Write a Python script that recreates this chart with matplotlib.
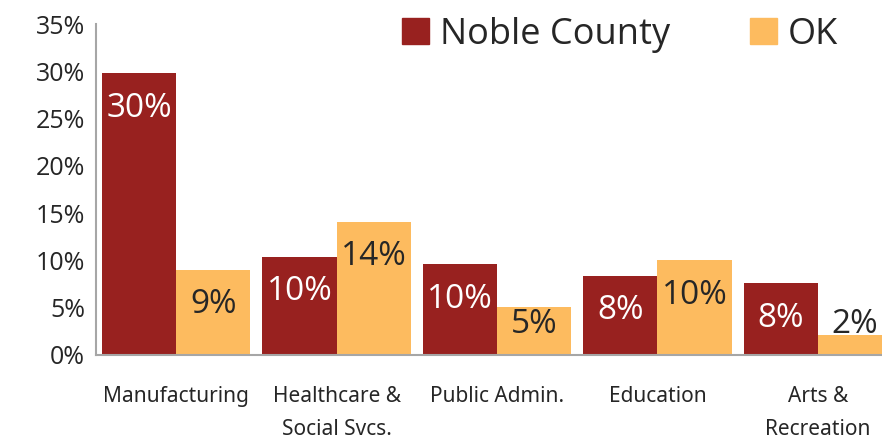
import numpy as np
import matplotlib.pyplot as plt
from matplotlib.patches import Patch

categories = ["Manufacturing", "Healthcare &\nSocial Svcs.", "Public Admin.", "Education", "Arts &\nRecreation"]
noble = [29.8, 10.4, 9.6, 8.4, 7.6]
ok = [9.0, 14.1, 5.1, 10.0, 2.1]
noble_labels = ["30%", "10%", "10%", "8%", "8%"]
ok_labels = ["9%", "14%", "5%", "10%", "2%"]

red = "#98211F"
orange = "#FDBB5F"
txt = "#262626"

plt.rcParams["font.family"] = ["Open Sans", "DejaVu Sans"]

fig = plt.figure(figsize=(8.82, 4.41), dpi=100)
ax = fig.add_axes([96 / 882, 86 / 441, 1 - 96 / 882, 331 / 441])

x = np.arange(len(categories))
w = 0.4625
ax.bar(x - w / 2, noble, w, color=red)
ax.bar(x + w / 2, ok, w, color=orange)

# labels sit just inside the bar end, but not lower than a floor for tiny bars
for i in range(len(categories)):
    ax.text(x[i] - w / 2, max(noble[i] - 3.7, 3.2), noble_labels[i], color="white",
            ha="center", va="center", fontsize=24)
    ax.text(x[i] + w / 2, max(ok[i] - 3.7, 3.2), ok_labels[i], color=txt,
            ha="center", va="center", fontsize=24)

ax.set_xlim(-0.5, 4.4)
ax.set_ylim(0, 35)
ax.set_yticks(np.arange(0, 36, 5))
ax.set_yticklabels([f"{v}%" for v in range(0, 36, 5)], fontsize=18, color=txt)
ax.set_xticks(x)
ax.set_xticklabels(categories, fontsize=15, color=txt, family="Noto Sans",
                   fontstretch="condensed", linespacing=1.8)
ax.tick_params(length=0)
ax.tick_params(axis="x", pad=22)
ax.tick_params(axis="y", pad=8)

for s in ["top", "right"]:
    ax.spines[s].set_visible(False)
for s in ["left", "bottom"]:
    ax.spines[s].set_color("#A6A6A6")
    ax.spines[s].set_linewidth(1.5)

handles = [Patch(color=red, label="Noble County"), Patch(color=orange, label="OK")]
ax.legend(handles=handles, loc="upper right", bbox_to_anchor=(0.985, 1.12), ncol=2,
          frameon=False, fontsize=26, handlelength=0.75, handleheight=0.75,
          handletextpad=0.3, columnspacing=2.2, labelcolor=txt)

fig.savefig("out.png", dpi=100)
